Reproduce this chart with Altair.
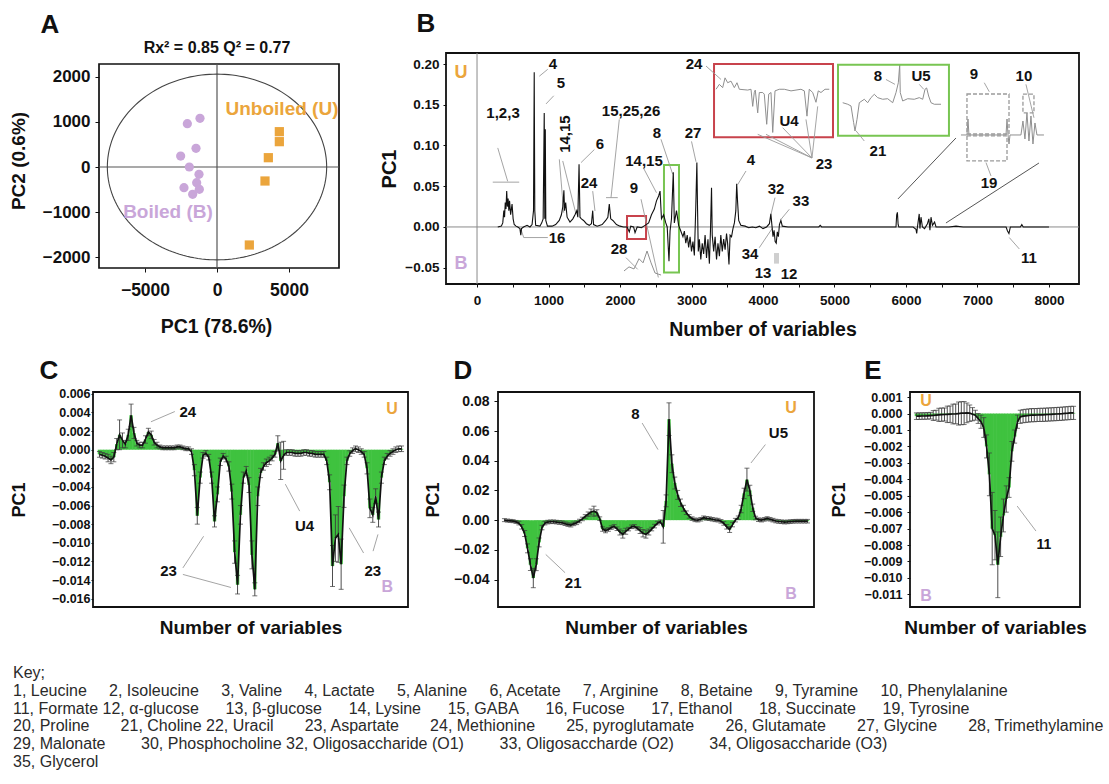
import math
import altair as alt
import numpy as np
import pandas as pd

FONT = "Liberation Sans"
INK = "#111111"
ORANGE = "#eba53c"
PURPLE = "#c9a6d9"
GREEN = "#3fc23f"
LEADER = "#9a9a9a"
TRACE = "#8f8f8f"
RED_BOX = "#c8434c"
GREEN_BOX = "#78c552"

# ---------------------------------------------------------------- Panel A data
boiled_pc1 = [-2060, -1181, -1458, -2523, -1921, -1250, -1412, -2292, -1690, -1227]
boiled_pc2 = [963, 1081, 415, 244, 0, -163, -348, -459, -607, -496]
unboiled_pc1 = [4329, 4329, 3565, 3333, 2245]
unboiled_pc2 = [785, 563, 207, -311, -1733]
ellipse_rx, ellipse_ry = 7615, 2063
A_FRAME_X = [-8194, 8472]
A_FRAME_Y = [-2244, 2289]
A_X_DOMAIN = [-8611, 8472]
A_Y_DOMAIN = [-2244, 2533]

# ---------------------------------------------------------------- Panel B data
spectrum = [
    (290, 0), (340, 0.001), (360, 0.005), (375, 0.02), (385, 0.012), (395, 0.03), (405, 0.022),
    (415, 0.044), (425, 0.025), (435, 0.035), (445, 0.02), (455, 0.032), (470, 0.015), (490, 0.028),
    (505, 0.01), (520, 0.003), (545, 0.001), (570, 0.0), (600, -0.002), (612, -0.01), (622, -0.002),
    (650, 0.0), (700, 0.002), (740, 0.0), (770, 0.003), (790, 0.02), (800, 0.19), (808, 0.02),
    (820, 0.002), (880, 0.001), (905, 0.005), (925, 0.01), (940, 0.14), (948, 0.01), (955, 0.12),
    (962, 0.008), (985, 0.001), (1050, 0.001), (1100, 0.003), (1150, 0.008), (1180, 0.015),
    (1200, 0.025), (1215, 0.045), (1225, 0.02), (1240, 0.03), (1260, 0.012), (1300, 0.006),
    (1340, 0.01), (1370, 0.015), (1395, 0.02), (1410, 0.012), (1427, 0.077), (1440, 0.012),
    (1460, 0.01), (1490, 0.008), (1530, 0.004), (1570, 0.002), (1600, 0.004), (1618, 0.02),
    (1630, 0.003), (1680, 0.001), (1750, 0.003), (1800, 0.008), (1830, 0.012), (1850, 0.028),
    (1870, 0.01), (1900, 0.008), (1950, 0.003), (2000, 0.001), (2050, 0.0), (2100, 0.0),
    (2130, -0.006), (2150, 0.001), (2190, 0.0), (2210, -0.007), (2240, 0.0), (2300, -0.001),
    (2350, 0.002), (2400, 0.005), (2440, 0.015), (2480, 0.022), (2510, 0.032), (2540, 0.038),
    (2560, 0.044), (2580, 0.01), (2610, 0.015), (2640, 0.005), (2660, 0.0), (2685, -0.042),
    (2700, -0.005), (2720, 0.01), (2745, 0.067), (2760, 0.005), (2790, 0.02), (2820, 0.002),
    (2850, -0.005), (2880, -0.012), (2900, -0.005), (2920, -0.02), (2940, -0.01), (2960, -0.025),
    (2980, -0.012), (3000, -0.03), (3020, -0.018), (3040, -0.035), (3060, 0.025), (3075, 0.079),
    (3085, 0.02), (3095, -0.03), (3110, -0.015), (3130, -0.04), (3150, -0.02), (3170, -0.033),
    (3190, -0.01), (3210, -0.038), (3230, -0.015), (3250, -0.045), (3265, -0.005), (3280, 0.048),
    (3290, -0.01), (3310, -0.03), (3330, -0.012), (3350, -0.04), (3370, -0.02), (3390, -0.036),
    (3410, -0.01), (3430, -0.03), (3450, -0.015), (3470, -0.028), (3490, -0.008), (3505, -0.02),
    (3524, -0.046), (3540, -0.01), (3560, -0.012), (3580, -0.002), (3600, 0.005), (3620, 0.02),
    (3632, 0.053), (3645, 0.03), (3660, 0.008), (3690, 0.002), (3750, 0.001), (3800, -0.001),
    (3850, 0.0), (3900, -0.001), (3950, 0.001), (4000, -0.002), (4050, 0.0), (4090, 0.004),
    (4110, 0.016), (4125, 0.002), (4140, -0.012), (4155, -0.004), (4170, -0.018), (4185, -0.02),
    (4200, -0.006), (4215, -0.012), (4230, 0.003), (4250, 0.008), (4270, 0.001), (4350, 0.0),
    (4500, 0.0), (4780, 0.0), (4800, 0.002), (4820, 0.0), (5200, 0.0), (5500, 0.0), (5860, 0.0),
    (5870, 0.015), (5880, 0.018), (5890, 0.003), (5900, 0.0), (6100, 0.0), (6140, -0.003),
    (6150, -0.008), (6160, 0.0), (6185, 0.016), (6195, -0.002), (6210, 0.012), (6230, 0.0),
    (6260, -0.002), (6300, 0.004), (6320, 0.01), (6335, -0.004), (6350, 0.012), (6370, 0.002),
    (6400, 0.006), (6420, 0.0), (6600, 0.0), (6700, 0.001), (6800, 0.0), (7400, 0.0),
    (7420, -0.005), (7440, -0.008), (7460, 0.0), (7600, 0.0), (7620, 0.003), (7640, 0.0), (8000, 0.0),
]
B_X_DOMAIN = [-434, 8420]
B_Y_DOMAIN = [-0.070, 0.2135]

red_inset_x = [3343, 3389, 3436, 3469, 3506, 3552, 3599, 3636, 3669, 3786, 3832, 3856, 3878, 3892,
               3926, 3948, 3996, 4018, 4052, 4080, 4112, 4136, 4168, 4228, 4298, 4392, 4462, 4531,
               4578, 4615, 4647, 4695, 4741, 4773, 4811, 4867, 4927]
red_inset_y = [0.169, 0.175, 0.171, 0.183, 0.177, 0.179, 0.171, 0.177, 0.169, 0.168, 0.169, 0.148,
               0.165, 0.168, 0.140, 0.165, 0.165, 0.163, 0.126, 0.163, 0.165, 0.116, 0.167, 0.169,
               0.169, 0.167, 0.168, 0.169, 0.167, 0.136, 0.169, 0.165, 0.153, 0.167, 0.165, 0.169, 0.169]
green_inset_x = [5115, 5185, 5231, 5268, 5287, 5315, 5347, 5417, 5464, 5510, 5557, 5604, 5674, 5744,
                 5814, 5860, 5893, 5912, 5920, 5954, 6024, 6116, 6186, 6234, 6266, 6289, 6317, 6350,
                 6396, 6490]
green_inset_y = [0.1525, 0.1506, 0.1485, 0.128, 0.1178, 0.1321, 0.1525, 0.1567, 0.1525, 0.1587,
                 0.1628, 0.1587, 0.1567, 0.1574, 0.1525, 0.1648, 0.177, 0.1988, 0.1648, 0.1546,
                 0.1574, 0.1567, 0.1587, 0.1567, 0.169, 0.1706, 0.1607, 0.1525, 0.1506, 0.1506]
inset910_x = [6769, 6853, 6867, 6881, 7399, 7413, 7427, 7441, 7455, 7608, 7636, 7664, 7692, 7720,
              7748, 7776, 7804, 7832, 7930]
inset910_y = [0.1129, 0.1129, 0.1325, 0.1129, 0.1129, 0.1325, 0.1129, 0.1018, 0.1129, 0.1129,
              0.130, 0.108, 0.1399, 0.1055, 0.1362, 0.1018, 0.1276, 0.1129, 0.1129]
inset28_x = [2056, 2126, 2196, 2266, 2322, 2378, 2434, 2490, 2574]
inset28_y = [-0.054, -0.049, -0.0515, -0.039, -0.044, -0.0295, -0.044, -0.0565, -0.059]

# boxes: (x, x2, y, y2, kind)
b_boxes = [
    (3315, 4979, 0.110, 0.200, "red"), (5049, 6601, 0.112, 0.199, "green"),
    (2098, 2364, -0.0147, 0.0135, "red"), (2615, 2825, -0.056, 0.076, "green"),
]
b_dashed_boxes = [(6853, 7441, 0.1141, 0.1632), (6853, 7413, 0.081, 0.1117), (7636, 7790, 0.140, 0.163)]
b_gray_patch = [(4154, 4224, -0.045, -0.032)]

b_labels = [
    ("1,2,3", 364, 0.140), ("4", 1063, 0.200), ("5", 1175, 0.177), ("6", 1720, 0.102),
    ("24", 1566, 0.054), ("15,25,26", 2154, 0.142), ("14,15", 2336, 0.081), ("8", 2517, 0.115),
    ("9", 2196, 0.048), ("27", 3021, 0.115), ("4", 3832, 0.082), ("16", 1120, -0.013),
    ("28", 1986, -0.027), ("32", 4182, 0.047), ("33", 4531, 0.032), ("34", 3818, -0.033),
    ("13", 4000, -0.056), ("12", 4364, -0.058), ("24", 3035, 0.200), ("U4", 4364, 0.130),
    ("23", 4853, 0.077), ("8", 5608, 0.185), ("U5", 6210, 0.185), ("21", 5608, 0.093),
    ("9", 6951, 0.188), ("10", 7650, 0.185), ("19", 7161, 0.054), ("11", 7720, -0.038),
]
b_rot_labels = [("14,15", 1231, 0.114)]
b_class_labels = [("U", -224, 0.189, ORANGE), ("B", -224, -0.045, PURPLE)]
b_leaders = [
    (290, 0.097, 429, 0.056), (220, 0.055, 590, 0.055), (989, 0.1935, 871, 0.185),
    (1073, 0.161, 965, 0.151), (1151, 0.083, 1213, 0.0175), (1199, 0.081, 1385, 0.0156),
    (1641, 0.095, 1455, 0.079), (1618, 0.044, 1650, 0.0196), (1990, 0.132, 1874, 0.036),
    (1804, 0.036, 1968, 0.036), (2330, 0.072, 2510, 0.042), (2573, 0.1076, 2737, 0.0647),
    (2294, 0.034, 2536, -0.062), (3000, 0.105, 3063, 0.080), (3762, 0.0687, 3646, 0.052),
    (615, -0.003, 653, -0.013), (653, -0.013, 990, -0.013), (2084, -0.0377, 2247, -0.052),
    (4168, 0.036, 4112, 0.0156), (4368, 0.0217, 4252, 0.0094), (3948, -0.0254, 4136, -0.0009),
    (3203, 0.1975, 3413, 0.181), (4685, 0.0847, 3926, 0.1137), (4685, 0.0847, 4042, 0.1137),
    (4685, 0.0847, 4275, 0.1218), (4685, 0.0847, 4601, 0.132), (4685, 0.0847, 4765, 0.148),
    (5720, 0.181, 5846, 0.175), (6186, 0.175, 6248, 0.169), (5417, 0.1055, 5301, 0.118),
    (7095, 0.177, 7165, 0.166), (7678, 0.175, 7790, 0.134), (7119, 0.079, 7189, 0.0626),
    (7445, -0.013, 7585, -0.027),
]
b_zoom_lines = [(5888, 0.0344, 6699, 0.1092), (6559, 0.0049, 7860, 0.0785)]

# ---------------------------------------------------------------- Panels C, D, E data
c_vals = [-0.0005, -0.0006, -0.0007, -0.0009, -0.0011, -0.0008, 0.0006, 0.0016, 0.0010, 0.0006,
          0.0016, 0.0037, 0.0018, 0.0007, 0.0005, 0.0005, 0.0011, 0.0019, 0.0016, 0.0008,
          0.0005, 0.0003, 0.0002, 0.0002, 0.0002, 0.0002, 0.0002, 0.0003, 0.0003, 0.0002,
          0.0001, 0.0001, -0.0002, -0.0022, -0.0071, -0.0030, -0.0006, -0.0004, -0.0008, -0.0030,
          -0.0077, -0.0048, -0.0013, -0.0007, -0.0010, -0.0018, -0.0045, -0.0110, -0.0145, -0.0070,
          -0.0030, -0.0023, -0.0038, -0.0113, -0.0150, -0.0050, -0.0025, -0.0018, -0.0014, -0.0012,
          -0.0009, -0.0005, 0.0007, -0.0012, -0.0006, -0.0003, -0.0003, -0.0003, -0.0004, -0.0004,
          -0.0004, -0.0003, -0.0003, -0.0004, -0.0004, -0.0005, -0.0005, -0.0005, -0.0005, -0.0012,
          -0.0035, -0.0125, -0.0095, -0.0091, -0.0123, -0.0050, -0.0012, -0.0004, -0.0001, 0.0001,
          0.0000, -0.0002, -0.0005, -0.0020, -0.0063, -0.0070, -0.0050, -0.0075, -0.0030, -0.0012,
          -0.0007, -0.0004, -0.0002, 0.0000, 0.0001, 0.0001]
c_errs = [0.0003, 0.0003, 0.0003, 0.0004, 0.0004, 0.0005, 0.0006, 0.0016, 0.0008, 0.0004,
          0.0006, 0.0012, 0.0006, 0.0003, 0.0003, 0.0003, 0.0004, 0.0004, 0.0004, 0.0003,
          0.0003, 0.0002, 0.0002, 0.0002, 0.0002, 0.0002, 0.0002, 0.0002, 0.0002, 0.0002,
          0.0002, 0.0002, 0.0003, 0.0006, 0.0009, 0.0006, 0.0003, 0.0003, 0.0003, 0.0006,
          0.0006, 0.0008, 0.0004, 0.0003, 0.0003, 0.0005, 0.0008, 0.0012, 0.0010, 0.0010,
          0.0006, 0.0005, 0.0008, 0.0015, 0.0007, 0.0010, 0.0005, 0.0004, 0.0004, 0.0004,
          0.0003, 0.0003, 0.0008, 0.0020, 0.0015, 0.0003, 0.0003, 0.0003, 0.0003, 0.0003,
          0.0003, 0.0003, 0.0003, 0.0003, 0.0003, 0.0003, 0.0003, 0.0003, 0.0003, 0.0004,
          0.0008, 0.0022, 0.0025, 0.0030, 0.0027, 0.0012, 0.0004, 0.0003, 0.0003, 0.0003,
          0.0003, 0.0003, 0.0003, 0.0006, 0.0010, 0.0008, 0.0008, 0.0008, 0.0006, 0.0004,
          0.0003, 0.0003, 0.0003, 0.0003, 0.0003, 0.0003]
C_Y_DOMAIN = [-0.0169, 0.0062]

d_vals = [0.0000, -0.0003, -0.0005, -0.0007, -0.0012, -0.0020, -0.0045, -0.0090, -0.0190, -0.0300,
          -0.0390, -0.0300, -0.0150, -0.0050, -0.0020, -0.0013, -0.0011, -0.0011, -0.0013, -0.0016,
          -0.0018, -0.0024, -0.0030, -0.0034, -0.0025, -0.0018, -0.0006, 0.0008, 0.0025, 0.0040,
          0.0055, 0.0060, 0.0050, 0.0010, -0.0060, -0.0070, -0.0063, -0.0050, -0.0042, -0.0058,
          -0.0080, -0.0096, -0.0075, -0.0060, -0.0045, -0.0042, -0.0055, -0.0070, -0.0088, -0.0096,
          -0.0080, -0.0060, -0.0040, -0.0020, -0.0010, -0.0045, 0.0130, 0.0680, 0.0380, 0.0250,
          0.0170, 0.0117, 0.0080, 0.0050, 0.0025, 0.0010, 0.0002, 0.0000, 0.0006, 0.0016,
          0.0012, 0.0010, 0.0006, 0.0002, 0.0000, -0.0008, -0.0022, -0.0045, -0.0063, -0.0030,
          0.0000, 0.0016, 0.0075, 0.0180, 0.0273, 0.0200, 0.0083, 0.0015, 0.0003, 0.0000,
          0.0005, 0.0011, 0.0006, 0.0000, -0.0006, -0.0009, -0.0011, -0.0013, -0.0012, -0.0010,
          -0.0008, -0.0007, -0.0007, -0.0007, -0.0007, -0.0007]
d_errs = [0.0010, 0.0010, 0.0010, 0.0010, 0.0010, 0.0012, 0.0015, 0.0020, 0.0030, 0.0040,
          0.0065, 0.0040, 0.0030, 0.0015, 0.0012, 0.0012, 0.0012, 0.0012, 0.0012, 0.0012,
          0.0012, 0.0012, 0.0012, 0.0012, 0.0012, 0.0012, 0.0012, 0.0012, 0.0012, 0.0015,
          0.0020, 0.0034, 0.0020, 0.0012, 0.0015, 0.0015, 0.0012, 0.0012, 0.0012, 0.0012,
          0.0020, 0.0025, 0.0020, 0.0012, 0.0012, 0.0012, 0.0012, 0.0020, 0.0025, 0.0025,
          0.0020, 0.0012, 0.0012, 0.0012, 0.0012, 0.0110, 0.0040, 0.0110, 0.0060, 0.0040,
          0.0030, 0.0025, 0.0020, 0.0012, 0.0012, 0.0012, 0.0012, 0.0012, 0.0012, 0.0012,
          0.0012, 0.0012, 0.0012, 0.0012, 0.0012, 0.0012, 0.0012, 0.0015, 0.0020, 0.0015,
          0.0012, 0.0012, 0.0025, 0.0035, 0.0077, 0.0035, 0.0025, 0.0012, 0.0012, 0.0012,
          0.0012, 0.0012, 0.0012, 0.0012, 0.0012, 0.0012, 0.0012, 0.0012, 0.0012, 0.0012,
          0.0012, 0.0012, 0.0012, 0.0012, 0.0012, 0.0012]
D_Y_DOMAIN = [-0.0585, 0.0863]

e_vals = [-0.00016, -0.00016, -0.00015, -0.00015, -0.00014, -0.00013, -0.00012, -0.00010, -0.00008,
          -0.00007, -0.00006, -0.00005, -0.00004, -0.00003, -0.00002, 0.00000, 0.00002, 0.00003,
          0.00004, 0.00002, -0.00004, -0.00010, -0.00030, -0.00050, -0.00085, -0.00200, -0.00370,
          -0.00700, -0.00740, -0.00920, -0.00750, -0.00620, -0.00520, -0.00450, -0.00230, -0.00140,
          -0.00050, -0.00020, -0.00016, -0.00014, -0.00012, -0.00010, -0.00010, -0.00009, -0.00008,
          -0.00008, -0.00007, -0.00006, -0.00005, -0.00004, -0.00003, -0.00002, -0.00001, 0.00001,
          0.00002, 0.00004, 0.00004]
e_errs = [0.0002, 0.0002, 0.0002, 0.0002, 0.0002, 0.0002, 0.0003, 0.0003, 0.0004, 0.0004,
          0.0004, 0.0005, 0.0005, 0.0006, 0.0006, 0.0007, 0.0007, 0.0007, 0.0006, 0.0005,
          0.0004, 0.0003, 0.0003, 0.0004, 0.0006, 0.0007, 0.0013, 0.0022, 0.0015, 0.0020,
          0.0012, 0.0010, 0.0008, 0.0006, 0.0006, 0.0004, 0.0004, 0.0004, 0.0004, 0.0004,
          0.0004, 0.0004, 0.0004, 0.0004, 0.0004, 0.0004, 0.0004, 0.0004, 0.0004, 0.0004,
          0.0004, 0.0004, 0.0004, 0.0004, 0.0004, 0.0004, 0.0004]
E_Y_DOMAIN = [-0.01177, 0.00131]

c_labels = [("24", 30.7, 0.0041), ("U4", 71.3, -0.0082), ("23", 24.0, -0.0130), ("23", 95.0, -0.0130)]
c_leaders = [(17.9, 0.0030, 26.2, 0.0041), (64.6, -0.0037, 69.6, -0.0066), (29.0, -0.0127, 36.2, -0.0093),
             (29.0, -0.0134, 45.7, -0.0148), (91.8, -0.0111, 86.8, -0.0084), (95.1, -0.0109, 96.8, -0.0091)]
c_class = [("U", 101.7, 0.0044, ORANGE), ("B", 100.0, -0.0148, PURPLE)]

d_labels = [("8", 45.4, 0.0715), ("21", 23.8, -0.0421), ("U5", 94.9, 0.0587)]
d_leaders = [(47.7, 0.0654, 53.2, 0.0475), (14.3, -0.0231, 21.0, -0.0354), (90.4, 0.0509, 85.4, 0.0385)]
d_class = [("U", 99.3, 0.0753, ORANGE), ("B", 99.3, -0.0497, PURPLE)]

e_labels = [("11", 45.4, -0.0080)]
e_leaders = [(35.9, -0.00563, 42.6, -0.00715)]
e_class = [("U", 3.4, 0.00075, ORANGE), ("B", 3.4, -0.0111, PURPLE)]

NB = "\u00a0"
key_lines = [
    "Key;",
    (NB * 5).join(["1, Leucine", "2, Isoleucine", "3, Valine", "4, Lactate", "5, Alanine", "6, Acetate",
                   "7, Arginine", "8, Betaine", "9, Tyramine", "10, Phenylalanine"]),
    (NB * 6).join(["11, Formate 12, \u03b1-glucose", "13, \u03b2-glucose", "14, Lysine", "15, GABA",
                   "16, Fucose", "17, Ethanol", "18, Succinate", "19, Tyrosine"]),
    (NB * 7).join(["20, Proline", "21, Choline 22, Uracil", "23, Aspartate", "24, Methionine",
                   "25, pyroglutamate", "26, Glutamate", "27, Glycine", "28, Trimethylamine"]),
    (NB * 8).join(["29, Malonate", "30, Phosphocholine 32, Oligosaccharide (O1)",
                   "33, Oligosaccharde (O2)", "34, Oligosaccharide (O3)"]),
    "35, Glycerol",
]

# ---------------------------------------------------------------- helpers
AX = dict(labelFont=FONT, titleFont=FONT, labelFontWeight="bold", titleFontWeight="bold",
          labelColor=INK, titleColor=INK, tickColor=INK, domain=False, grid=False)
ONE = pd.DataFrame({"k": [0]})


class Panel:
    def __init__(self, xs, ys, xax, yax):
        self.xs, self.ys, self.xax, self.yax = xs, ys, xax, yax

    def X(self, field):
        return alt.X(f"{field}:Q", scale=self.xs, axis=self.xax)

    def Y(self, field):
        return alt.Y(f"{field}:Q", scale=self.ys, axis=self.yax)

    def text(self, rows, **mk):
        df = pd.DataFrame(rows, columns=["t", "x", "y"])
        style = dict(font=FONT, fontWeight="bold", fontSize=15, color=INK, align="center",
                     baseline="middle")
        style.update(mk)
        return alt.Chart(df).mark_text(**style).encode(x=self.X("x"), y=self.Y("y"), text="t:N")

    def classes(self, rows, size=16):
        return [self.text([(t, x, y)], color=col, fontSize=size) for t, x, y, col in rows]

    def segs(self, rows, **mk):
        df = pd.DataFrame(rows, columns=["x", "y", "x2", "y2"])
        return alt.Chart(df).mark_rule(**mk).encode(x=self.X("x"), y=self.Y("y"), x2="x2:Q", y2="y2:Q")

    def boxes(self, rows, **mk):
        df = pd.DataFrame(rows, columns=["x", "x2", "y", "y2"])
        return alt.Chart(df).mark_rect(**mk).encode(x=self.X("x"), x2="x2:Q", y=self.Y("y"), y2="y2:Q")


def letter(ch, dx, dy):
    return alt.Chart(ONE).mark_text(text=ch, font=FONT, fontSize=26, fontWeight="bold", color=INK,
                                    align="center", baseline="middle").encode(x=alt.value(dx), y=alt.value(dy))


# ---------------------------------------------------------------- Panel A
pA = Panel(
    alt.Scale(domain=A_X_DOMAIN, nice=False, zero=False),
    alt.Scale(domain=A_Y_DOMAIN, nice=False, zero=False),
    alt.Axis(title="PC1 (78.6%)", values=[-5000, 0, 5000], format="d", labelFontSize=17.5,
             titleFontSize=19.5, tickSize=4, labelPadding=9, titlePadding=19, labelFlush=False, **AX),
    alt.Axis(title="PC2 (0.6%)", values=[-2000, -1000, 0, 1000, 2000], format="d", labelFontSize=17,
             titleFontSize=19, tickSize=4, labelPadding=5, minExtent=53, maxExtent=53,
             titlePadding=18, offset=-6, **AX),
)
frameA = pA.boxes([(A_FRAME_X[0], A_FRAME_X[1], A_FRAME_Y[0], A_FRAME_Y[1])], fill="transparent",
                  stroke=INK, strokeWidth=1.7)
crossA = pA.segs([(A_FRAME_X[0], 0, A_FRAME_X[1], 0), (0, A_FRAME_Y[0], 0, A_FRAME_Y[1])],
                 color="#555555", strokeWidth=1.2)
tt = np.linspace(0, 2 * math.pi, 181)
ell_df = pd.DataFrame({"o": np.arange(len(tt)), "x": ellipse_rx * np.cos(tt), "y": ellipse_ry * np.sin(tt)})
ellA = alt.Chart(ell_df).mark_line(color="#444444", strokeWidth=1.1).encode(
    x=pA.X("x"), y=pA.Y("y"), order="o:Q")
boiledA = alt.Chart(pd.DataFrame({"x": boiled_pc1, "y": boiled_pc2})).mark_circle(
    size=85, color=PURPLE, opacity=1).encode(x=pA.X("x"), y=pA.Y("y"))
unboiledA = alt.Chart(pd.DataFrame({"x": unboiled_pc1, "y": unboiled_pc2})).mark_square(
    size=85, color=ORANGE, opacity=1).encode(x=pA.X("x"), y=pA.Y("y"))
labA1 = pA.text([("Unboiled (U)", 4514, 1289)], color=ORANGE, fontSize=19)
labA2 = pA.text([("Boiled (B)", -3403, -1000)], color=PURPLE, fontSize=19)
titleA = pA.text([("Rx\u00b2 = 0.85 Q\u00b2 = 0.77", 0, 2644)], fontSize=16)

panelA = alt.layer(frameA, crossA, ellA, boiledA, unboiledA, labA1, labA2, titleA,
                   letter("A", -43, -28)).properties(
    width=246, height=215, view=alt.ViewBackground(strokeOpacity=0))

# ---------------------------------------------------------------- Panel B
pB = Panel(
    alt.Scale(domain=B_X_DOMAIN, nice=False, zero=False),
    alt.Scale(domain=B_Y_DOMAIN, nice=False, zero=False),
    alt.Axis(title="Number of variables", values=list(range(0, 8001, 500)),
             labelExpr="datum.value % 1000 == 0 ? datum.label : ''", format="d",
             labelFontSize=13.5, titleFontSize=19.5, tickSize=3, labelPadding=6, titlePadding=14,
             labelFlush=False, **AX),
    alt.Axis(title="PC1", values=[-0.05, 0, 0.05, 0.1, 0.15, 0.2], format=".2f", labelFontSize=13.5,
             titleFontSize=20, tickSize=3, labelPadding=4, minExtent=38, maxExtent=38,
             titlePadding=9, **AX),
)
spec_df = pd.DataFrame(spectrum, columns=["x", "y"])
spec_line = alt.Chart(spec_df).mark_line(color=INK, strokeWidth=1.1).encode(x=pB.X("x"), y=pB.Y("y"))
zeroB = pB.segs([(B_X_DOMAIN[0], 0, B_X_DOMAIN[1], 0), (0, B_Y_DOMAIN[0], 0, B_Y_DOMAIN[1])],
                color="#8a8a8a", strokeWidth=1)
trace_rows = []
for name, xs_, ys_ in [("red", red_inset_x, red_inset_y), ("green", green_inset_x, green_inset_y),
                       ("910", inset910_x, inset910_y), ("28", inset28_x, inset28_y)]:
    for k, (a, b) in enumerate(zip(xs_, ys_)):
        trace_rows.append({"g": name, "o": k, "x": a, "y": b})
tracesB = alt.Chart(pd.DataFrame(trace_rows)).mark_line(color=TRACE, strokeWidth=1).encode(
    x=pB.X("x"), y=pB.Y("y"), detail="g:N", order="o:Q")
redB = pB.boxes([b[:4] for b in b_boxes if b[4] == "red"], fill="transparent", stroke=RED_BOX,
                strokeWidth=2)
greenB = pB.boxes([b[:4] for b in b_boxes if b[4] == "green"], fill="transparent", stroke=GREEN_BOX,
                  strokeWidth=2)
dashB = pB.boxes(b_dashed_boxes, fill="transparent", stroke="#9a9a9a", strokeWidth=1.3, strokeDash=[4, 2])
patchB = pB.boxes(b_gray_patch, color="#cfcfcf")
leadB = pB.segs(b_leaders, color=LEADER, strokeWidth=0.9)
zoomB = pB.segs(b_zoom_lines, color="#555555", strokeWidth=1)
labB = pB.text(b_labels, fontSize=15)
rotB = pB.text(b_rot_labels, fontSize=15, angle=270)

panelB = alt.layer(zeroB, patchB, tracesB, redB, greenB, dashB, leadB, zoomB, spec_line, labB, rotB,
                   *pB.classes(b_class_labels, size=18), letter("B", -20, -29)).properties(
    width=633, height=231)


# ---------------------------------------------------------------- Panels C, D, E
def bar_panel(vals, errs, width, ydom, yaxis, let, let_dx, labels, leaders, classes, label_size=15):
    n = len(vals)
    df = pd.DataFrame({"i": list(range(n)), "v": vals, "e": errs})
    df["lo"] = df["v"] - df["e"]
    df["hi"] = df["v"] + df["e"]
    p = Panel(
        alt.Scale(domain=[-0.5, n - 0.5], nice=False, zero=False),
        alt.Scale(domain=ydom, nice=False, zero=False),
        alt.Axis(title="Number of variables", labels=False, ticks=False, titleFontSize=19,
                 titlePadding=11, **AX),
        yaxis,
    )
    step = width / n
    bars = alt.Chart(df).mark_bar(color=GREEN, size=step + 0.4).encode(
        x=p.X("i"), y=p.Y("v"), y2=alt.datum(0))
    whisk = alt.Chart(df).mark_rule(color="#3a3a3a", strokeWidth=0.9).encode(
        x=p.X("i"), y=p.Y("lo"), y2="hi:Q")
    cap_lo = alt.Chart(df).mark_tick(orient="horizontal", size=5, thickness=1, color="#3a3a3a").encode(
        x=p.X("i"), y=p.Y("lo"))
    cap_hi = alt.Chart(df).mark_tick(orient="horizontal", size=5, thickness=1, color="#3a3a3a").encode(
        x=p.X("i"), y=p.Y("hi"))
    line = alt.Chart(df).mark_line(color=INK, strokeWidth=1.7).encode(x=p.X("i"), y=p.Y("v"))
    lead = p.segs(leaders, color=LEADER, strokeWidth=0.9)
    labs = p.text(labels, fontSize=label_size)
    return alt.layer(bars, whisk, cap_lo, cap_hi, line, lead, labs, *p.classes(classes),
                     letter(let, let_dx, -21)).properties(width=width, height=215)


axC_y = alt.Axis(title="PC1", values=[-0.016, -0.014, -0.012, -0.010, -0.008, -0.006, -0.004, -0.002,
                                      0.0, 0.002, 0.004, 0.006], format=".3f", labelFontSize=12.5,
                 titleFontSize=18, tickSize=2, labelPadding=1, minExtent=40, maxExtent=40,
                 titlePadding=25, **AX)
axD_y = alt.Axis(title="PC1", values=[-0.04, -0.02, 0.0, 0.02, 0.04, 0.06, 0.08], format=".2f",
                 labelFontSize=14, titleFontSize=18, tickSize=4, labelPadding=5, minExtent=41,
                 maxExtent=41, titlePadding=15, **AX)
axE_y = alt.Axis(title="PC1", values=[-0.011, -0.010, -0.009, -0.008, -0.007, -0.006, -0.005, -0.004,
                                      -0.003, -0.002, -0.001, 0.0, 0.001], format=".3f",
                 labelFontSize=12.5, titleFontSize=18, tickSize=3, labelPadding=5, minExtent=45,
                 maxExtent=45, titlePadding=17, **AX)

panelC = bar_panel(c_vals, c_errs, 315, C_Y_DOMAIN, axC_y, "C", -44, c_labels, c_leaders, c_class)
panelD = bar_panel(d_vals, d_errs, 316, D_Y_DOMAIN, axD_y, "D", -35, d_labels, d_leaders, d_class)
panelE = bar_panel(e_vals, e_errs, 170, E_Y_DOMAIN, axE_y, "E", -37, e_labels, e_leaders, e_class,
                   label_size=14)

# ---------------------------------------------------------------- Key
key_df = pd.DataFrame({"row": list(range(len(key_lines))), "t": key_lines})
key = alt.Chart(key_df).mark_text(align="left", baseline="middle", font=FONT, fontSize=16,
                                  color="#2a2a2a").encode(
    x=alt.value(-80), y=alt.Y("row:Q", scale=alt.Scale(domain=[5, 0]), axis=None), text="t:N").properties(
    width=960, height=89, view=alt.ViewBackground(strokeOpacity=0))

row1 = alt.hconcat(panelA, panelB, spacing=38)
row2 = alt.hconcat(panelC, panelD, panelE, spacing=14)

chart = alt.vconcat(alt.vconcat(row1, row2, spacing=17), key, spacing=27).properties(
    padding={"left": 9, "top": 10, "right": 0, "bottom": 0}).configure(font=FONT).configure_view(
    stroke=INK, strokeWidth=1.8)

chart.save("out.html", embed_options={"renderer": "svg", "actions": False})
